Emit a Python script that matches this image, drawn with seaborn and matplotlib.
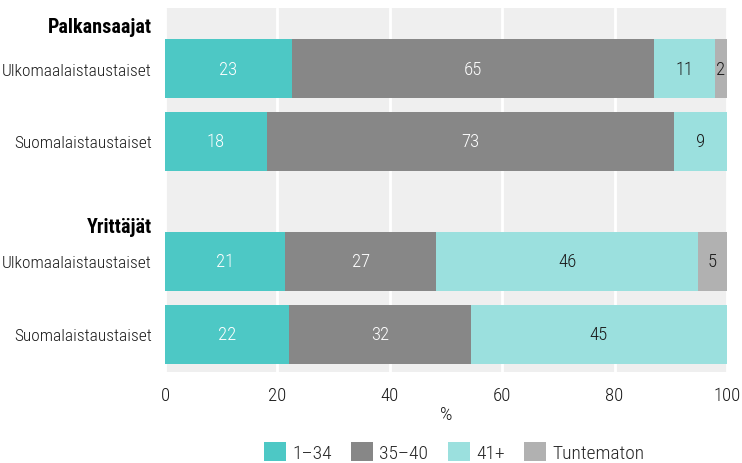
import numpy as np
import pandas as pd
import seaborn as sns
import matplotlib.pyplot as plt
from matplotlib.patches import Patch
from matplotlib.transforms import blended_transform_factory

# Tiedot (osuudet %, luettu kuvasta)
ryhmat = ['Palkansaajat', 'Yrittäjät']
taustat = ['Ulkomaalaistaustaiset', 'Suomalaistaustaiset',
           'Ulkomaalaistaustaiset', 'Suomalaistaustaiset']
luokat = ['1–34', '35–40', '41+', 'Tuntematon']
osuus_1_34 = [22.6, 18.1, 21.4, 22.1]
osuus_35_40 = [64.4, 72.5, 26.9, 32.3]
osuus_41 = [10.8, 9.4, 46.5, 45.6]
osuus_tuntematon = [2.2, 0.0, 5.2, 0.0]
# pylvaissa naytetyt pyoristetyt luvut
nimet_1_34 = ['23', '18', '21', '22']
nimet_35_40 = ['65', '73', '27', '32']
nimet_41 = ['11', '9', '46', '45']
nimet_tuntematon = ['2', '', '5', '']

varit = ['#4dc8c5', '#878787', '#9be0de', '#b1b1b1']
tekstivarit = ['white', 'white', '#1a1a1a', '#1a1a1a']

rivi_y = [0, 1, 2.644, 3.644]
otsikko_y = [-0.575, 2.158]

sns.set_style('whitegrid', {'axes.facecolor': '#efefef', 'grid.color': 'white',
                            'axes.edgecolor': '#efefef'})
plt.rcParams['font.family'] = ['Roboto Condensed', 'DejaVu Sans']
plt.rcParams['font.weight'] = 300
plt.rcParams['font.size'] = 13

fig = plt.figure(figsize=(7.42, 4.64), dpi=100)
ax = fig.add_axes([165 / 742, 91 / 464, 562 / 742, 364 / 464])

osuudet = [osuus_1_34, osuus_35_40, osuus_41, osuus_tuntematon]
nimet = [nimet_1_34, nimet_35_40, nimet_41, nimet_tuntematon]
kertyma = np.cumsum(np.array(osuudet), axis=0)

# piirretaan kertymat oikealta vasemmalle, jolloin syntyy pinottu pylvas
for i in range(len(luokat) - 1, -1, -1):
    df = pd.DataFrame({'arvo': kertyma[i], 'rivi': rivi_y})
    sns.barplot(data=df, x='arvo', y='rivi', orient='y', native_scale=True,
                color=varit[i], saturation=1, width=0.81, linewidth=0,
                errorbar=None, ax=ax)

for i in range(len(luokat)):
    alku = kertyma[i] - np.array(osuudet[i])
    for j, y in enumerate(rivi_y):
        if nimet[i][j]:
            ax.text(alku[j] + osuudet[i][j] / 2, y, nimet[i][j], ha='center',
                    va='center', color=tekstivarit[i], fontsize=13.5)

ax.set_xlim(0, 100)
ax.set_ylim(4.158, -0.829)
ax.set_xticks([0, 20, 40, 60, 80, 100])
ax.set_yticks(rivi_y, taustat)
ax.tick_params(axis='y', length=0, pad=9.5, labelsize=12.5, colors='#1a1a1a')
ax.tick_params(axis='x', length=0, pad=10, labelsize=13.5, colors='#1a1a1a')
ax.grid(axis='y', visible=False)
ax.grid(axis='x', color='white', linewidth=2)
ax.set_axisbelow(True)
ax.set_xlabel('%', fontsize=14, fontweight=300, labelpad=1, color='#1a1a1a')
ax.set_ylabel('')
for s in ax.spines.values():
    s.set_visible(False)

tr = blended_transform_factory(ax.transAxes, ax.transData)
for nimi, y in zip(ryhmat, otsikko_y):
    ax.text(-13 / 562, y, nimi, transform=tr, ha='right', va='center',
            fontsize=14.5, fontweight='bold', color='black')

kahvat = [Patch(facecolor=c, edgecolor='none') for c in varit]
fig.legend(kahvat, luokat, loc='center', bbox_to_anchor=(454 / 742, 11 / 464),
           ncol=4, frameon=False, fontsize=14, handlelength=1.15,
           handleheight=1.15, handletextpad=0.3, columnspacing=1.0)

fig.savefig('out.png', dpi=100)
